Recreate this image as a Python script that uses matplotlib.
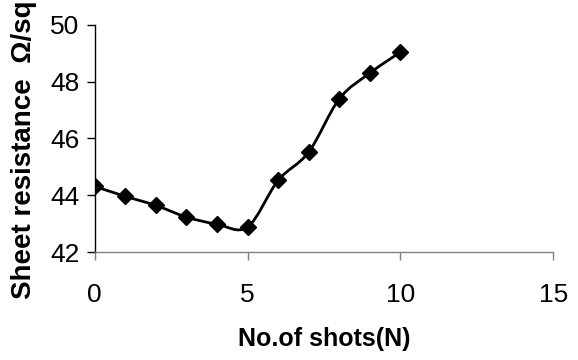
import matplotlib.pyplot as plt
import numpy as np
from matplotlib.path import Path
from matplotlib.patches import PathPatch

plt.rcParams['font.family'] = ['Liberation Sans', 'DejaVu Sans']

# datos
shots = [0, 1, 2, 3, 4, 5, 6, 7, 8, 9, 10]
resistance = [44.31, 43.96, 43.64, 43.23, 42.98, 42.88, 44.52, 45.52, 47.39, 48.30, 49.04]


def smooth_path(x, y, t=1 / 6):
    # curva suavizada tipo Excel (Bezier cubica entre los puntos)
    p = np.column_stack([x, y]).astype(float)
    n = len(p)
    verts = [p[0]]
    codes = [Path.MOVETO]
    for i in range(n - 1):
        p0 = p[i - 1] if i > 0 else p[i]
        p3 = p[i + 2] if i + 2 < n else p[i + 1]
        c1 = p[i] + (p[i + 1] - p0) * t
        c2 = p[i + 1] - (p3 - p[i]) * t
        verts += [c1, c2, p[i + 1]]
        codes += [Path.CURVE4] * 3
    return Path(verts, codes)


fig = plt.figure(figsize=(5.78, 3.6), dpi=100)
ax = fig.add_axes([0.164, 0.30, 0.793, 0.631])

ax.add_patch(PathPatch(smooth_path(shots, resistance), facecolor='none',
                       edgecolor='black', lw=2.0))
ax.plot(shots, resistance, linestyle='none', marker='D', markersize=8,
        color='black')

ax.set_xlim(0, 15)
ax.set_ylim(42, 50)
ax.set_xticks([0, 5, 10, 15])
ax.set_yticks([42, 44, 46, 48, 50])

for s in ['top', 'right']:
    ax.spines[s].set_visible(False)
ax.spines['left'].set_color('black')
ax.spines['bottom'].set_color('#808080')
ax.spines['left'].set_linewidth(1.0)
ax.spines['bottom'].set_linewidth(1.0)

ax.tick_params(axis='x', direction='out', length=6, width=1, colors='#808080',
               labelcolor='black', labelsize=19, pad=16)
ax.tick_params(axis='y', direction='out', length=6, width=1, colors='black',
               labelsize=19, pad=5)

ax.set_xlabel('No.of shots(N)', fontsize=18, fontweight='bold', labelpad=15)
fig.text(0.042, 1 - 299 / 360, 'Sheet resistance  Ω/sq', rotation=90,
         ha='center', va='bottom', fontsize=20, fontweight='bold')

fig.savefig('out.png', dpi=100)
